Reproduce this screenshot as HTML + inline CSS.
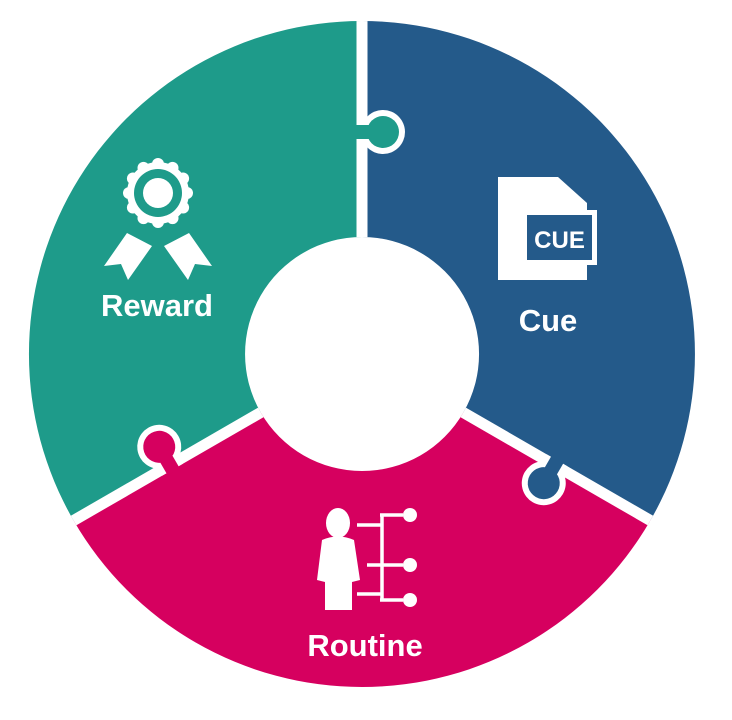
<!DOCTYPE html>
<html><head><meta charset="utf-8"><style>
html,body{margin:0;padding:0;background:#fff;width:732px;height:720px;overflow:hidden}
svg{display:block}
text{font-family:"Liberation Sans",sans-serif;font-weight:bold;fill:#fff}
</style></head><body>
<svg width="732" height="720" viewBox="0 0 732 720">
<defs>
<clipPath id="ring"><path d="M362,21 a333,333 0 1,1 -0.1,0 Z M362,237 a117,117 0 1,0 0.1,0 Z" clip-rule="evenodd"/></clipPath>
</defs>
<g clip-path="url(#ring)">
  <path d="M362,354 L362,0 L-300,0 L-300,354 L-216,688 Z" fill="#1e9b8a"/>
  <path d="M362,354 L362,0 L1000,0 L1000,354 L940,688 Z" fill="#245a8a"/>
  <path d="M362,354 L-216,688 L-216,800 L940,800 L940,688 Z" fill="#d6005f"/>
  <g transform="translate(362,354)">
    <g>
      <line x1="0" y1="-100" x2="0" y2="-360" stroke="#fff" stroke-width="11"/>
      <rect x="-5.5" y="-234" width="16" height="24" fill="#fff"/>
      <circle cx="21" cy="-222" r="22" fill="#fff"/>
      <circle cx="21" cy="-222" r="16" fill="#1e9b8a"/>
      <rect x="-8" y="-229" width="22" height="14" fill="#1e9b8a"/>
    </g>
    <g transform="rotate(-120)">
      <line x1="0" y1="-100" x2="0" y2="-360" stroke="#fff" stroke-width="11"/>
      <rect x="-5.5" y="-234" width="16" height="24" fill="#fff"/>
      <circle cx="21" cy="-222" r="22" fill="#fff"/>
      <circle cx="21" cy="-222" r="16" fill="#d6005f"/>
      <rect x="-8" y="-229" width="22" height="14" fill="#d6005f"/>
    </g>
    <g transform="rotate(120)">
      <line x1="0" y1="-100" x2="0" y2="-360" stroke="#fff" stroke-width="11"/>
      <rect x="-5.5" y="-234" width="16" height="24" fill="#fff"/>
      <circle cx="21" cy="-222" r="22" fill="#fff"/>
      <circle cx="21" cy="-222" r="16" fill="#245a8a"/>
      <rect x="-8" y="-229" width="22" height="14" fill="#245a8a"/>
    </g>
  </g>
</g>

<!-- Reward icon -->
<g fill="#fff">
  <polygon points="127,233 152,246 128,280 121,264 104,266"/>
  <polygon points="189,233 164,246 188,280 195,264 212,266"/>
  <circle cx="158" cy="193" r="31"/>
  <g transform="translate(158,193)">
    <circle cx="0" cy="-29" r="6"/><circle cx="0" cy="29" r="6"/>
    <circle cx="29" cy="0" r="6"/><circle cx="-29" cy="0" r="6"/>
    <circle cx="14.5" cy="25.1" r="6"/><circle cx="-14.5" cy="25.1" r="6"/>
    <circle cx="14.5" cy="-25.1" r="6"/><circle cx="-14.5" cy="-25.1" r="6"/>
    <circle cx="25.1" cy="14.5" r="6"/><circle cx="-25.1" cy="14.5" r="6"/>
    <circle cx="25.1" cy="-14.5" r="6"/><circle cx="-25.1" cy="-14.5" r="6"/>
  </g>
</g>
<circle cx="158" cy="193" r="24" fill="#1e9b8a"/>
<circle cx="158" cy="193" r="15" fill="#fff"/>
<text x="157" y="316" font-size="31" text-anchor="middle">Reward</text>

<!-- Cue icon -->
<path d="M498,177 L558,177 L587,203 L587,280 L498,280 Z" fill="#fff"/>
<rect x="522" y="210" width="75" height="55" fill="#fff"/>
<rect x="527" y="215" width="65" height="45" fill="#245a8a"/>
<text x="559.5" y="248" font-size="24" text-anchor="middle">CUE</text>
<text x="548" y="331" font-size="31" text-anchor="middle">Cue</text>

<!-- Routine icon -->
<g fill="#fff">
  <ellipse cx="338" cy="523" rx="12" ry="15"/>
  <path d="M322,540 Q338,533 354,540 L360,580 L352,582 L352,610 L325,610 L325,582 L317,580 Z"/>
  <circle cx="410" cy="515" r="7"/>
  <circle cx="410" cy="565" r="7"/>
  <circle cx="410" cy="600" r="7"/>
</g>
<g stroke="#fff" stroke-width="3.5" fill="none">
  <line x1="382" y1="514" x2="382" y2="601"/>
  <line x1="380" y1="515" x2="403" y2="515"/>
  <line x1="357" y1="525" x2="382" y2="525"/>
  <line x1="367" y1="565" x2="403" y2="565"/>
  <line x1="357" y1="594" x2="382" y2="594"/>
  <line x1="380" y1="600" x2="403" y2="600"/>
</g>
<text x="365" y="656" font-size="31" text-anchor="middle">Routine</text>
</svg>
</body></html>
